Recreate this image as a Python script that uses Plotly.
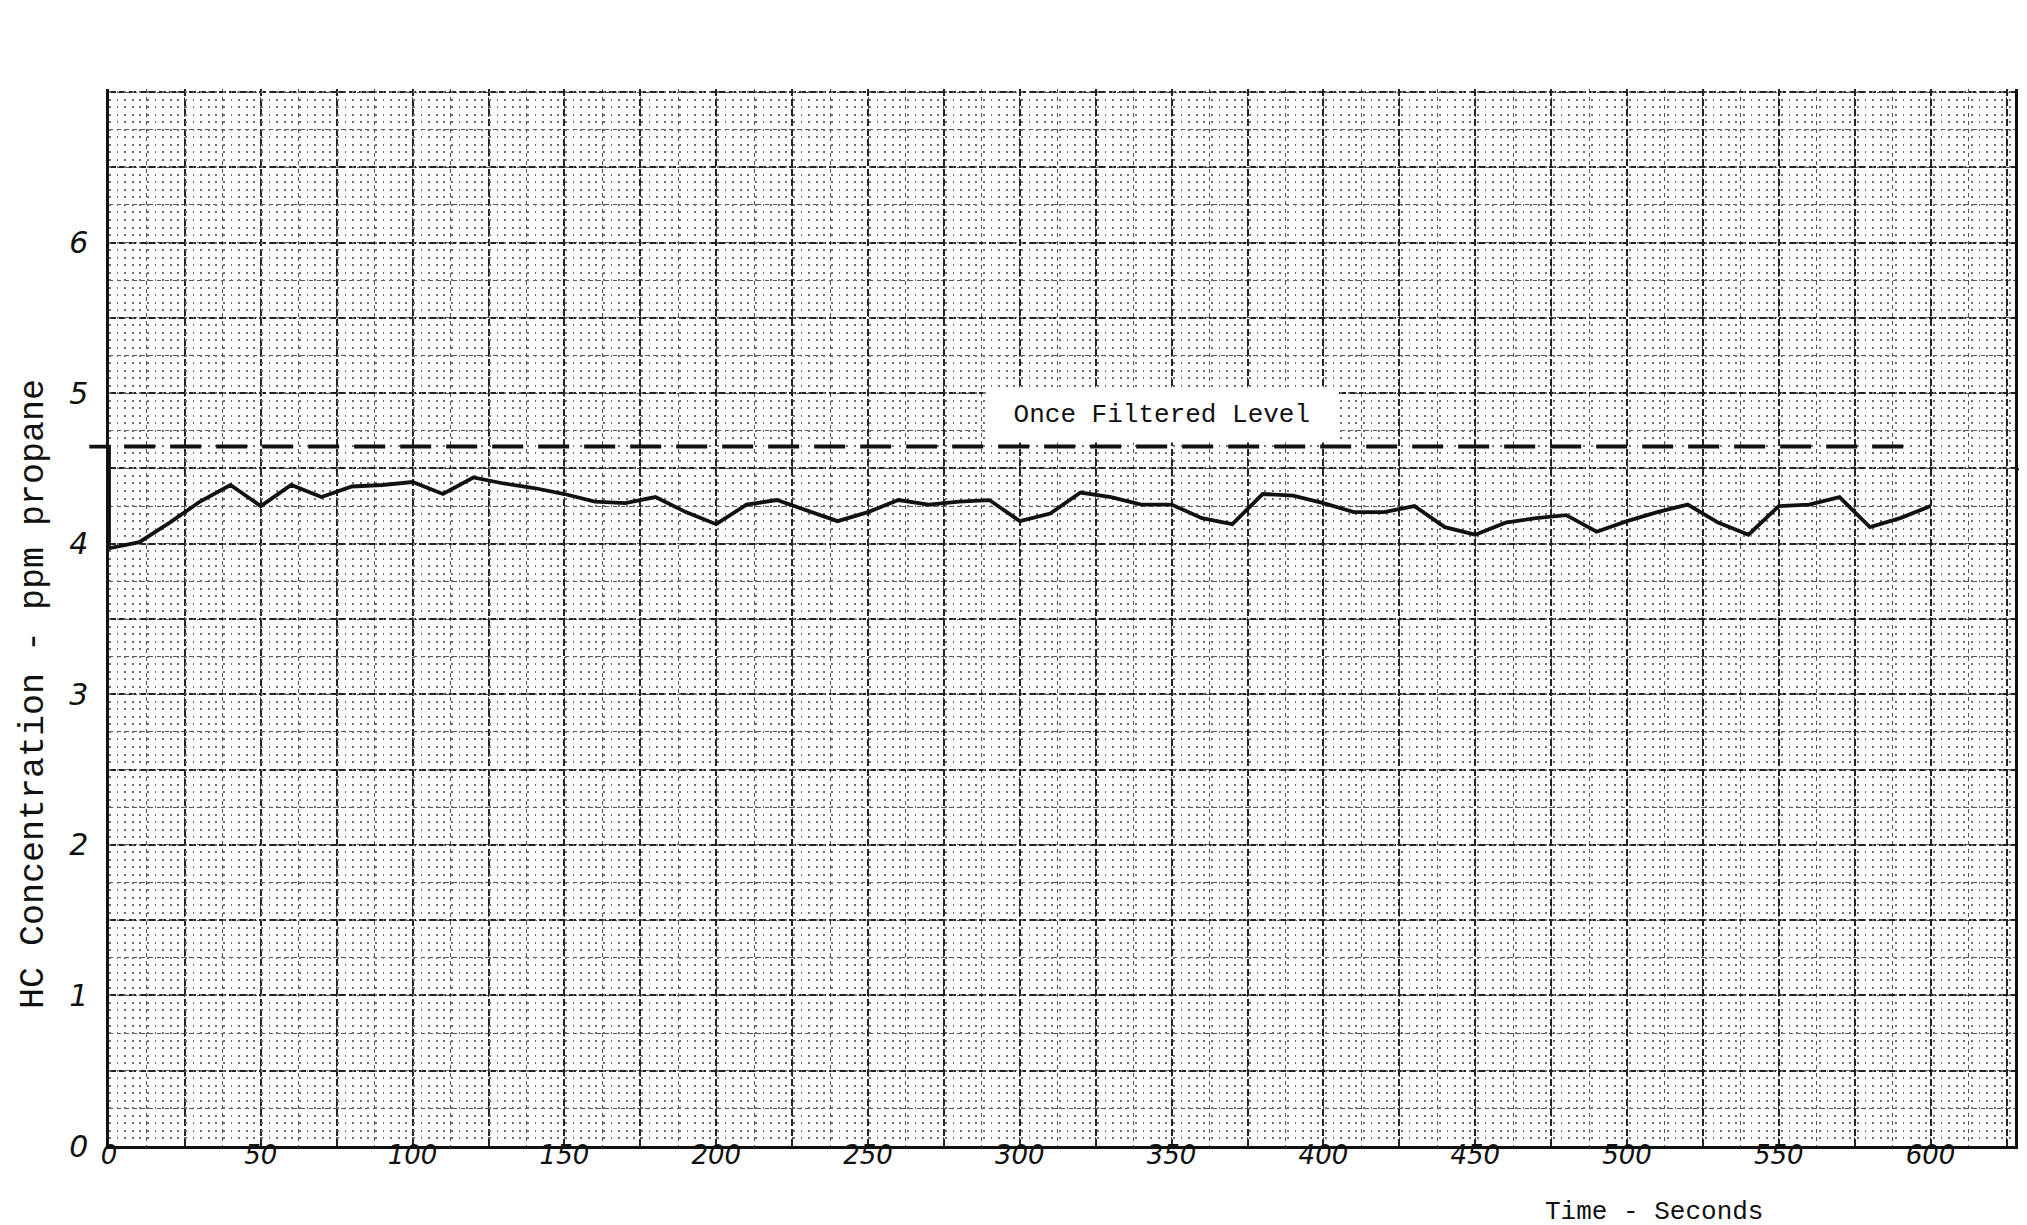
import numpy as np
import plotly.graph_objects as go

# ---------------- data ----------------
time_s = [0, 10, 20, 30, 40, 50, 60, 70, 80, 90,
          100, 110, 120, 130, 140, 150, 160, 170, 180, 190,
          200, 210, 220, 230, 240, 250, 260, 270, 280, 290,
          300, 310, 320, 330, 340, 350, 360, 370, 380, 390,
          400, 410, 420, 430, 440, 450, 460, 470, 480, 490,
          500, 510, 520, 530, 540, 550, 560, 570, 580, 590,
          600]
hc_ppm = [3.97, 4.01, 4.14, 4.28, 4.39, 4.25, 4.39, 4.31, 4.38, 4.39,
          4.41, 4.33, 4.44, 4.40, 4.37, 4.33, 4.28, 4.27, 4.31, 4.21,
          4.13, 4.26, 4.29, 4.22, 4.15, 4.21, 4.29, 4.26, 4.28, 4.29,
          4.15, 4.20, 4.34, 4.31, 4.26, 4.26, 4.17, 4.13, 4.33, 4.32,
          4.27, 4.21, 4.21, 4.25, 4.11, 4.06, 4.14, 4.17, 4.19, 4.08,
          4.15, 4.21, 4.26, 4.14, 4.06, 4.25, 4.26, 4.31, 4.11, 4.17,
          4.25]
lead_time = [-6.5, 0]
lead_ppm = [4.645, 4.645]
filtered_time = [5, 593]
filtered_ppm = [4.645, 4.645]

x_tick_vals = [0, 50, 100, 150, 200, 250, 300, 350, 400, 450, 500, 550, 600]
x_tick_text = ["0", "50", "100", "150", "200", "250", "300", "350", "400", "450", "500", "550", "600"]
y_tick_vals = [0, 1, 2, 3, 4, 5, 6]
y_tick_text = ["0", "1", "2", "3", "4", "5", "6"]

label_text = "Once Filtered Level"
label_time = 347
label_ppm = 4.855
x_title = "Time - Seconds"
y_title = "HC Concentration - ppm propane"
page_no = "-6-"

# ---------------- geometry ----------------
W, H = 2027, 1225
M_L, M_R, M_T, M_B = 70, 20, 81, 87
AXIS_PX = 101            # pixel of t = 0
PX_PER_S = 3.036
plot_w = W - M_L - M_R
plot_h = H - M_T - M_B
x_max = (W - M_R - AXIS_PX) / PX_PER_S
x2_min = (M_L - AXIS_PX) / PX_PER_S
dom_x0 = (AXIS_PX - M_L) / plot_w
y_max = 7.02

grid_x = list(np.arange(0, x_max, 25))
grid_x_text = [x_tick_text[x_tick_vals.index(v)] if v in x_tick_vals else "" for v in grid_x]
grid_y = list(np.arange(0, 7.01, 0.5))
grid_y_text = [y_tick_text[y_tick_vals.index(v)] if v in y_tick_vals else "" for v in grid_y]

INK = "#111111"
MONO = "Liberation Mono, Courier New, monospace"
HAND = dict(family="DejaVu Sans", style="italic", color=INK)

fig = go.Figure()
# empty traces to register grid subplots
fig.add_trace(go.Scatter(x=[], y=[], xaxis="x", yaxis="y", showlegend=False))
fig.add_trace(go.Scatter(x=[], y=[], xaxis="x", yaxis="y3", showlegend=False))

# measured curve (with lead-in from the filtered level)
fig.add_trace(go.Scatter(
    x=lead_time + time_s, y=lead_ppm + hc_ppm, xaxis="x2", yaxis="y2",
    mode="lines", line=dict(color=INK, width=3.8), showlegend=False, hoverinfo="skip"))
# once filtered level
fig.add_trace(go.Scatter(
    x=filtered_time, y=filtered_ppm, xaxis="x2", yaxis="y2",
    mode="lines", line=dict(color=INK, width=4, dash="31px,15px"),
    showlegend=False, hoverinfo="skip"))

fig.update_layout(
    width=W, height=H,
    margin=dict(l=M_L, r=M_R, t=M_T, b=M_B),
    paper_bgcolor="white", plot_bgcolor="rgba(0,0,0,0)",
    showlegend=False,
    xaxis=dict(
        domain=[dom_x0, 1], range=[0, x_max], anchor="y",
        tickmode="array", tickvals=grid_x, ticktext=grid_x_text,
        ticks="", ticklabelstandoff=-16,
        tickfont=dict(size=26, **HAND),
        showgrid=True, gridcolor="#222222", gridwidth=1.7, griddash="7px,3px",
        minor=dict(tickmode="linear", tick0=0, dtick=12.5, showgrid=True,
                   gridcolor="#555555", gridwidth=1, griddash="4px,4px", ticks=""),
        zeroline=False, showline=True, linecolor=INK, linewidth=2.5,
    ),
    xaxis2=dict(domain=[0, 1], range=[x2_min, x_max], anchor="y2", visible=False),
    yaxis=dict(
        domain=[0, 1], range=[0, y_max], anchor="x",
        tickmode="array", tickvals=grid_y, ticktext=grid_y_text,
        ticks="", ticklabelstandoff=12,
        tickfont=dict(size=30, **HAND),
        showgrid=True, gridcolor="#222222", gridwidth=1.7, griddash="7px,3px",
        minor=dict(tickmode="linear", tick0=0, dtick=0.25, showgrid=True,
                   gridcolor="#555555", gridwidth=1, griddash="4px,4px", ticks=""),
        zeroline=False, showline=True, mirror=True, linecolor=INK, linewidth=2.5,
    ),
    yaxis2=dict(domain=[0, 1], range=[0, y_max], anchor="x2", visible=False),
    yaxis3=dict(
        overlaying="y", anchor="x", range=[0, y_max],
        tickmode="linear", tick0=0, dtick=0.05,
        showgrid=True, gridcolor="#707070", gridwidth=1.5, griddash="1.7px,5.9px",
        showticklabels=False, ticks="", zeroline=False, showline=False,
    ),
    annotations=[
        dict(text=" " + label_text + " ", x=label_time, y=label_ppm, xref="x", yref="y",
             showarrow=False, font=dict(family=MONO, size=26, color=INK),
             bgcolor="white", borderpad=12),
        dict(text=x_title, x=(1646 - M_L) / plot_w, y=(H - M_B - 1204) / plot_h,
             xref="paper", yref="paper", showarrow=False, xanchor="center", yanchor="middle",
             font=dict(family=MONO, size=26, color=INK)),
        dict(text=y_title, x=(26 - M_L) / plot_w, y=(H - M_B - 686) / plot_h,
             xref="paper", yref="paper", showarrow=False, xanchor="center", yanchor="middle",
             textangle=-90, font=dict(family=MONO, size=35, color=INK)),
        dict(text="<b>" + page_no + "</b>", x=(2014 - M_L) / plot_w, y=(H - M_B - 458) / plot_h,
             xref="paper", yref="paper", showarrow=False, xanchor="center", yanchor="middle",
             textangle=-90, font=dict(family=MONO, size=16, color=INK)),
    ],
)

fig.write_html("out.html")
